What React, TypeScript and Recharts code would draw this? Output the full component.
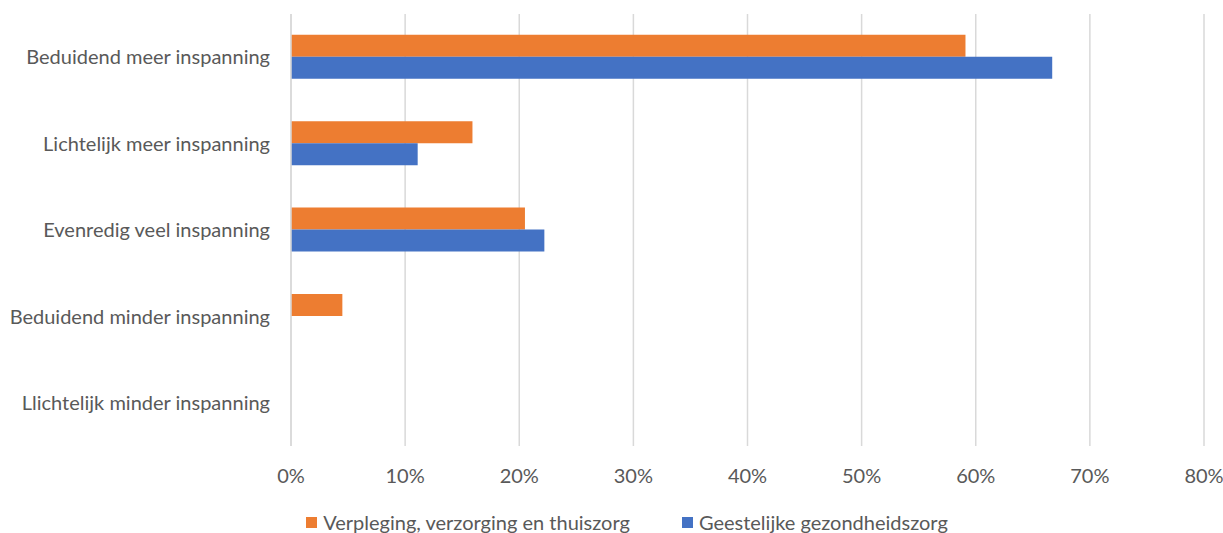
import { BarChart, Bar, XAxis, YAxis, CartesianGrid, Legend } from "recharts";

// Share of respondents per answer, per sector (fractions)
const categories = [
  "Beduidend meer inspanning",
  "Lichtelijk meer inspanning",
  "Evenredig veel inspanning",
  "Beduidend minder inspanning",
  "Llichtelijk minder inspanning",
];
const verpleging = [0.591, 0.159, 0.205, 0.045, 0];
const ggz = [0.667, 0.111, 0.222, 0, 0];
const xTicks = [0, 0.1, 0.2, 0.3, 0.4, 0.5, 0.6, 0.7, 0.8];

const SERIES = [
  { key: "verpleging", name: "Verpleging, verzorging en thuiszorg", color: "#ED7D31" },
  { key: "ggz", name: "Geestelijke gezondheidszorg", color: "#4472C4" },
];

const data = categories.map((c, i) => ({ cat: c, verpleging: verpleging[i], ggz: ggz[i] }));

const FONT = "Lato, 'Open Sans', sans-serif";
const TEXT = "#595959";

function LegendContent() {
  return (
    <div style={{ display: "flex", justifyContent: "center", gap: 52, fontFamily: FONT, fontSize: 20, color: TEXT, paddingLeft: 50 }}>
      {SERIES.map((s) => (
        <div key={s.key} style={{ display: "flex", alignItems: "center", gap: 6 }}>
          <span style={{ width: 11, height: 11, background: s.color, display: "inline-block" }} />
          <span>{s.name}</span>
        </div>
      ))}
    </div>
  );
}

export default function App() {
  return (
    <div style={{ position: "absolute", left: 0, top: 0, width: 1223, height: 533, background: "#fff", overflow: "hidden" }}>
      <BarChart
        width={1223}
        height={533}
        data={data}
        layout="vertical"
        barCategoryGap="24%"
        barGap={0}
        margin={{ top: 14, right: 19, left: 0, bottom: 0 }}
      >
        <CartesianGrid horizontal={false} stroke="#d9d9d9" strokeWidth={1.5} />
        <XAxis
          type="number"
          domain={[0, 0.8]}
          ticks={xTicks}
          tickFormatter={(v: number) => `${Math.round(v * 100)}%`}
          axisLine={false}
          tickLine={false}
          tickSize={0}
          tickMargin={23}
          height={60}
          tick={{ fontFamily: FONT, fontSize: 20, fill: TEXT }}
          interval={0}
        />
        <YAxis
          type="category"
          dataKey="cat"
          width={291}
          axisLine={{ stroke: "#d9d9d9", strokeWidth: 1.5 }}
          tickLine={false}
          tickSize={0}
          tickMargin={21}
          tick={{ fontFamily: FONT, fontSize: 20, fill: TEXT }}
          interval={0}
        />
        <Legend verticalAlign="bottom" height={27} content={<LegendContent />} wrapperStyle={{ bottom: -4 }} />
        {SERIES.map((s) => (
          <Bar key={s.key} dataKey={s.key} name={s.name} fill={s.color} isAnimationActive={false} />
        ))}
      </BarChart>
    </div>
  );
}
